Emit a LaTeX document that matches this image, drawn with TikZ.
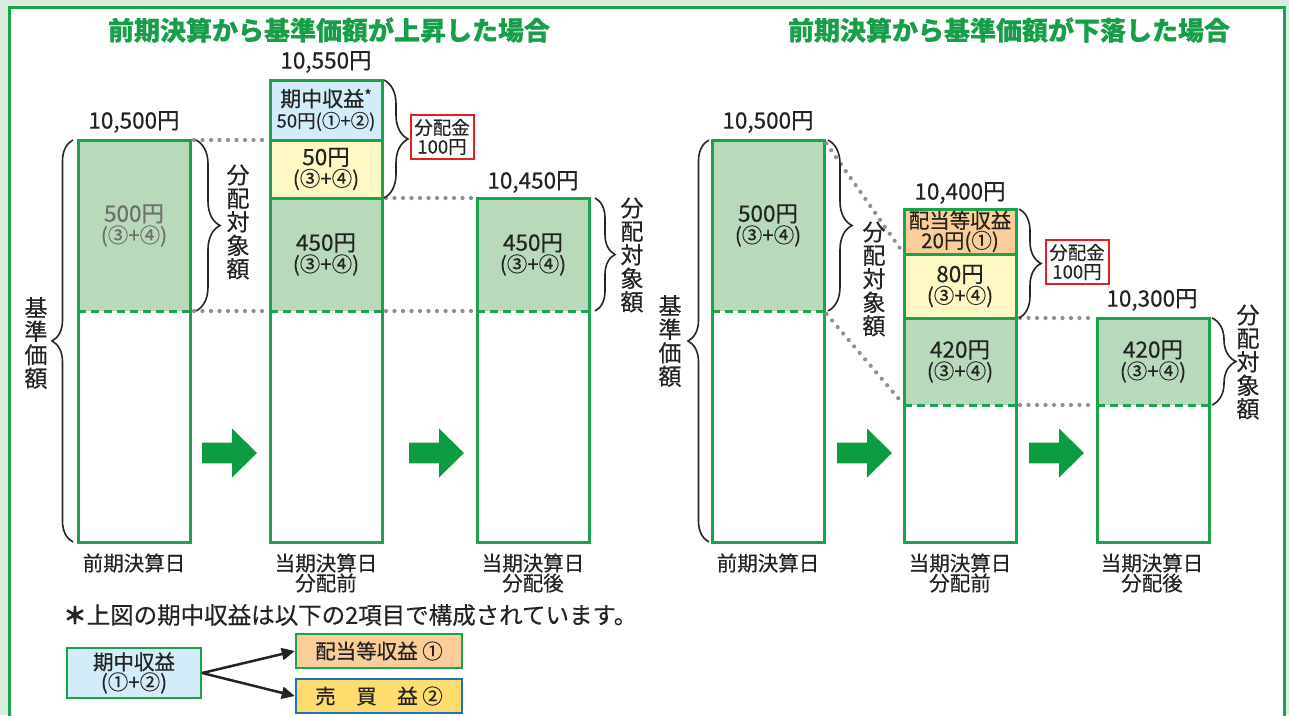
\documentclass[tikz,border=0pt]{standalone}
\usepackage{fontspec}
\setmainfont{Noto Sans CJK JP}
\newfontfamily\jp[RawFeature={embolden=0.4}]{Noto Sans CJK JP}
\usetikzlibrary{decorations.pathreplacing,arrows.meta,calc}
\definecolor{bg}{RGB}{217,236,222}
\definecolor{bgreen}{RGB}{26,163,76}
\definecolor{tgreen}{RGB}{24,158,72}
\definecolor{agreen}{RGB}{12,156,66}
\definecolor{sage}{RGB}{185,218,186}
\definecolor{lyel}{RGB}{255,248,196}
\definecolor{lblue}{RGB}{211,236,249}
\definecolor{lorange}{RGB}{251,206,153}
\definecolor{gold}{RGB}{254,221,110}
\definecolor{bblue}{RGB}{28,117,188}
\definecolor{rred}{RGB}{228,30,38}
\definecolor{txt}{RGB}{35,35,35}
\definecolor{gtxt}{RGB}{110,110,110}
\definecolor{dotgray}{RGB}{145,145,145}
\newcommand\two[2]{{\fontsize{22.5pt}{21pt}\selectfont #1}\\{\fontsize{20.5pt}{21pt}\selectfont #2}}
\tikzset{barrow/.pic={\fill[agreen] (0,-10.3) -- (30,-10.3) -- (30,-24.5) -- (55,0) -- (30,24.5) -- (30,10.3) -- (0,10.3) -- cycle;}}
\begin{document}
\begin{tikzpicture}[x=1pt,y=-1pt,font=\jp,text=txt,
  seg/.style={inner sep=0pt,outer sep=0pt,minimum width=112pt,anchor=north west,align=center,text=txt,font=\jp\fontsize{21pt}{21pt}\selectfont},
  barline/.style={draw=bgreen,line width=3pt},
  dashl/.style={draw=bgreen,line width=3pt,dash pattern=on 8pt off 5pt},
  dotl/.style={draw=dotgray,line width=4.2pt,line cap=round,dash pattern=on 0pt off 8.5pt,shorten <=4pt,shorten >=3pt},
  brc/.style={decorate,decoration={brace,amplitude=#1},draw=black!85,line width=1.6pt},
  brc/.default=24pt,
  vtext/.style={align=center,inner sep=0pt,font=\jp\fontsize{23pt}{23.5pt}\selectfont},
  amt/.style={inner sep=0pt,font=\jp\fontsize{22.5pt}{22pt}\selectfont},
  lab/.style={inner sep=0pt,align=center,font=\jp\fontsize{20.5pt}{20pt}\selectfont},
  redbox/.style={draw=rred,line width=2pt,fill=white,align=center,inner sep=0pt,minimum width=63pt,minimum height=44pt,font=\jp\fontsize{18.5pt}{19pt}\selectfont},
  ttl/.style={inner sep=0pt,text=tgreen,font=\jp\bfseries\fontsize{26pt}{26pt}\selectfont},
  legbox/.style={line width=2.5pt,align=center,inner sep=0pt,font=\jp\fontsize{20.5pt}{20pt}\selectfont}
]
\path[use as bounding box] (0,0) rectangle (1289,715);
\clip (0,0) rectangle (1289,715);
\fill[bg] (0,0) rectangle (1289,715);
\draw[fill=white,draw=bgreen,line width=3pt] (9.5,7.5) rectangle (1284,760);

% titles
\node[ttl] (t1) at (329,30) {前期決算から基準価額が上昇した場合};
\node[ttl] (t2) at (1009,30) {前期決算から基準価額が下落した場合};

% ===== left panel =====
\node[seg,fill=sage,minimum height=171pt,text=gtxt] (L1g) at (78,140) {\two{500円}{(③+④)}};
\node[seg,minimum height=231pt] (L1w) at (78,311) {};
\node[seg,fill=lblue,minimum height=60pt] (L2b) at (270,80) {期中収益\raisebox{5pt}{\fontsize{16pt}{16pt}\selectfont *}\\{\fontsize{18.5pt}{21pt}\selectfont 50円(①+②)}};
\node[seg,fill=lyel,minimum height=58pt] (L2y) at (270,140) {\two{50円}{(③+④)}};
\node[seg,fill=sage,minimum height=113pt] (L2g) at (270,198) {\two{450円}{(③+④)}};
\node[seg,minimum height=231pt] (L2w) at (270,311) {};
\node[seg,fill=sage,minimum height=113pt] (L3g) at (477,198) {\two{450円}{(③+④)}};
\node[seg,minimum height=231pt] (L3w) at (477,311) {};

\draw[barline] (L1g.north west) rectangle (L1w.south east);
\draw[dashl] (L1g.south west) -- (L1g.south east);
\draw[barline] (L2b.north west) rectangle (L2w.south east);
\draw[barline] (L2b.south west) -- (L2b.south east);
\draw[barline] (L2y.south west) -- (L2y.south east);
\draw[dashl] (L2g.south west) -- (L2g.south east);
\draw[barline] (L3g.north west) rectangle (L3w.south east);
\draw[dashl] (L3g.south west) -- (L3g.south east);

\draw[dotl] (L1g.north east) -- (L2y.north west);
\draw[dotl] (L1g.south east) -- (L2g.south west);
\draw[dotl] (L2g.north east) -- (L3g.north west);
\draw[dotl] (L2g.south east) -- (L3g.south west);

\draw[brc=21pt] ($(L1w.south west)+(-5,0)$) -- ($(L1g.north west)+(-5,0)$);
\draw[brc=24pt] ($(L1g.north east)+(6,0)$) -- ($(L1g.south east)+(6,0)$);
\draw[brc=24pt] ($(L2b.north east)+(2,0)$) -- ($(L2y.south east)+(2,0)$);
\draw[brc=20pt] ($(L3g.north east)+(6,0)$) -- ($(L3g.south east)+(6,0)$);

\node[vtext] (Lv1) at (36,343) {基\\準\\価\\額};
\node[vtext] (Lv2) at (238,222) {分\\配\\対\\象\\額};
\node[vtext] (Lv3) at (632,255) {分\\配\\対\\象\\額};

\node[amt] (La1) at (134,122) {10,500円};
\node[amt] (La2) at (326,62) {10,550円};
\node[amt] (La3) at (533,182) {10,450円};

\node[redbox] (Lr) at (442,137) {分配金\\100円};

\node[lab] (Ld1) at (134,563) {前期決算日};
\node[lab] (Ld2) at (326,573) {当期決算日\\分配前};
\node[lab] (Ld3) at (533,573) {当期決算日\\分配後};

\pic at (202,453) {barrow};
\pic at (409,453) {barrow};

% ===== right panel =====
\node[seg,fill=sage,minimum height=171pt] (R1g) at (712,140) {\two{500円}{(③+④)}};
\node[seg,minimum height=231pt] (R1w) at (712,311) {};
\node[seg,fill=lorange,minimum height=45pt,font=\jp\fontsize{20.5pt}{20pt}\selectfont] (R2o) at (904,209) {配当等収益\\20円(①)};
\node[seg,fill=lyel,minimum height=64pt] (R2y) at (904,254) {\two{80円}{(③+④)}};
\node[seg,fill=sage,minimum height=87pt] (R2g) at (904,318) {\two{420円}{(③+④)}};
\node[seg,minimum height=137pt] (R2w) at (904,405) {};
\node[seg,fill=sage,minimum height=87pt] (R3g) at (1097,318) {\two{420円}{(③+④)}};
\node[seg,minimum height=137pt] (R3w) at (1097,405) {};

\draw[barline] (R1g.north west) rectangle (R1w.south east);
\draw[dashl] (R1g.south west) -- (R1g.south east);
\draw[barline] (R2o.north west) rectangle (R2w.south east);
\draw[barline] (R2o.south west) -- (R2o.south east);
\draw[barline] (R2y.south west) -- (R2y.south east);
\draw[dashl] (R2g.south west) -- (R2g.south east);
\draw[barline] (R3g.north west) rectangle (R3w.south east);
\draw[dashl] (R3g.south west) -- (R3g.south east);

\draw[dotl] (R1g.north east) -- (R2y.north west);
\draw[dotl] (R1g.south east) -- (R2g.south west);
\draw[dotl] (R2g.north east) -- (R3g.north west);
\draw[dotl] (R2g.south east) -- (R3g.south west);

\draw[brc=21pt] ($(R1w.south west)+(-3,0)$) -- ($(R1g.north west)+(-3,0)$);
\draw[brc=24pt] ($(R1g.north east)+(4,0)$) -- ($(R1g.south east)+(4,0)$);
\draw[brc=22pt] ($(R2o.north east)+(3,0)$) -- ($(R2y.south east)+(3,0)$);
\draw[brc=24pt] ($(R3g.north east)+(3,0)$) -- ($(R3g.south east)+(3,0)$);

\node[vtext] (Rv1) at (670,341) {基\\準\\価\\額};
\node[vtext] (Rv2) at (874,279) {分\\配\\対\\象\\額};
\node[vtext] (Rv3) at (1248,362) {分\\配\\対\\象\\額};

\node[amt] (Ra1) at (768,122) {10,500円};
\node[amt] (Ra2) at (960,193) {10,400円};
\node[amt] (Ra3) at (1152,300) {10,300円};

\node[redbox] (Rr) at (1077,262) {分配金\\100円};

\node[lab] (Rd1) at (768,563) {前期決算日};
\node[lab] (Rd2) at (960,573) {当期決算日\\分配前};
\node[lab] (Rd3) at (1152,573) {当期決算日\\分配後};

\pic at (837,453) {barrow};
\pic at (1029,453) {barrow};

% ===== legend =====
\node[anchor=west,inner sep=0pt,font=\jp\fontsize{23.5pt}{23pt}\selectfont] (note) at (63,615) {{\bfseries ＊}上図の期中収益は以下の2項目で構成されています。};
\node[legbox,fill=lblue,draw=bgreen,minimum width=134pt,minimum height=50pt] (bq) at (134,673) {期中収益\\(①+②)};
\node[legbox,fill=lorange,draw=bgreen,minimum width=166pt,minimum height=34pt] (bo) at (379,651) {配当等収益 ①};
\node[legbox,fill=gold,draw=bblue,minimum width=166pt,minimum height=34pt] (by) at (379,696) {売　買　益 ②};
\draw[line width=2.5pt,draw=txt,-{Triangle[length=13pt,width=12pt]}] (bq.east) -- (bo.west);
\draw[line width=2.5pt,draw=txt,-{Triangle[length=13pt,width=12pt]}] (bq.east) -- (by.west);
\end{tikzpicture}
\end{document}
